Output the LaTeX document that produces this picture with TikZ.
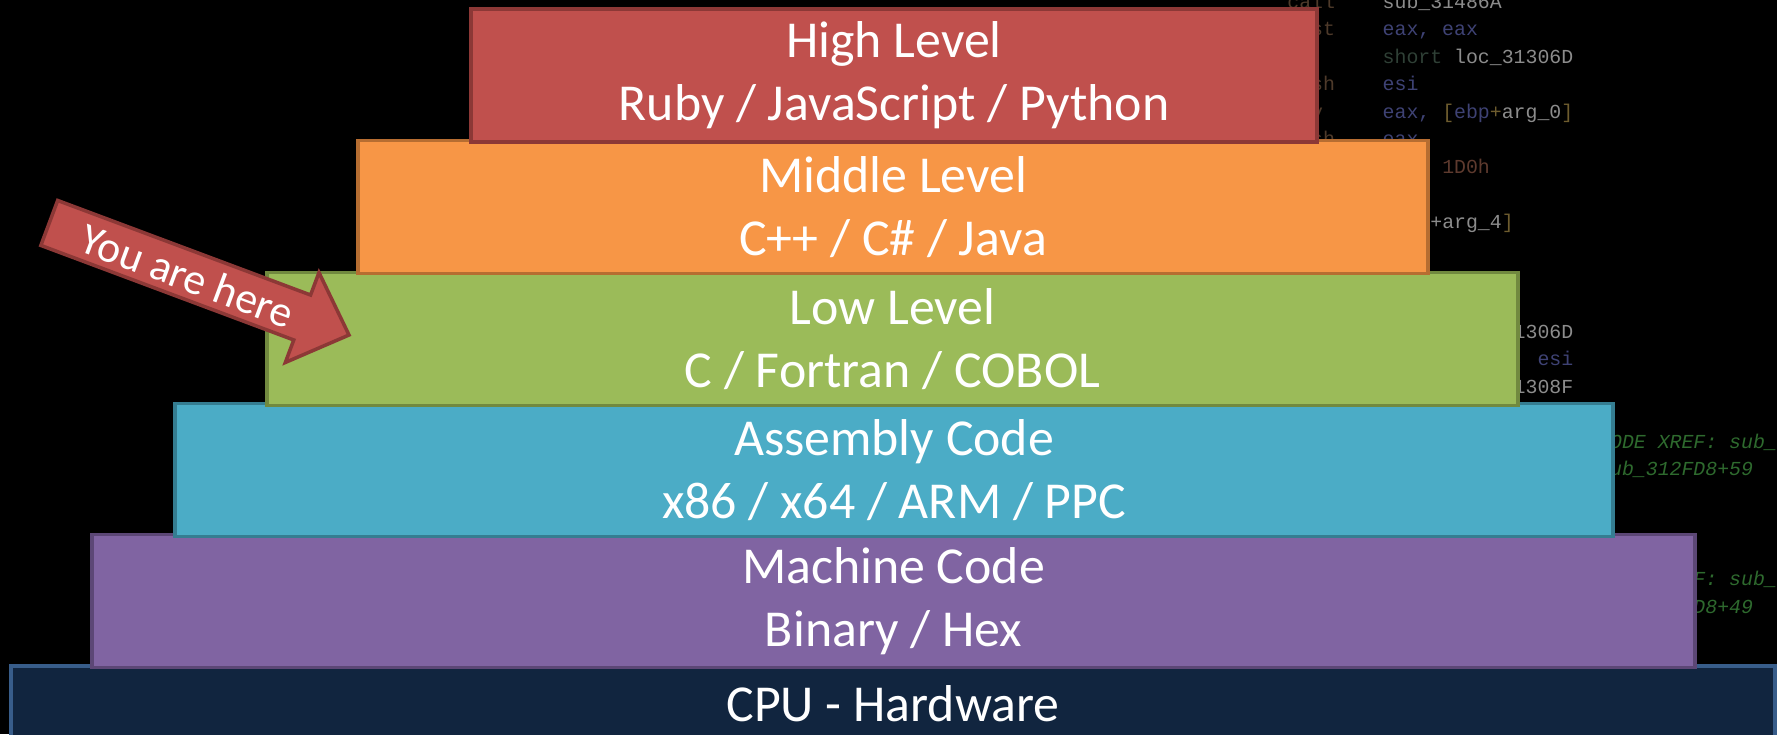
\documentclass[tikz,border=0pt]{standalone}
\usepackage{fontspec}
\setmainfont{Carlito}
\newfontfamily\codefont{Liberation Mono}
\usepackage{tikz}
\usetikzlibrary{positioning, calc}
\usepackage{xcolor}

\definecolor{highfill}{HTML}{C0504D}
\definecolor{highdraw}{HTML}{8C3836}
\definecolor{midfill}{HTML}{F79646}
\definecolor{middraw}{HTML}{B66D31}
\definecolor{lowfill}{HTML}{9BBB59}
\definecolor{lowdraw}{HTML}{71893F}
\definecolor{asmfill}{HTML}{4BACC6}
\definecolor{asmdraw}{HTML}{357D91}
\definecolor{machfill}{HTML}{8064A2}
\definecolor{machdraw}{HTML}{5C4776}
\definecolor{cpufill}{HTML}{11253F}
\definecolor{cpudraw}{HTML}{385D8A}
\definecolor{codeop}{HTML}{4E3A2A}
\definecolor{codereg}{HTML}{3E4274}
\definecolor{codekw}{HTML}{2F4036}
\definecolor{codelbl}{HTML}{8C8C8C}
\definecolor{codebrk}{HTML}{6E5C2E}
\definecolor{codenum}{HTML}{5E3A2E}
\definecolor{codecmt}{HTML}{2E6A2E}

\newcommand{\op}[1]{\textcolor{codeop}{#1}}
\newcommand{\reg}[1]{\textcolor{codereg}{#1}}
\newcommand{\kw}[1]{\textcolor{codekw}{#1}}
\newcommand{\lbl}[1]{\textcolor{codelbl}{#1}}
\newcommand{\brk}[1]{\textcolor{codebrk}{#1}}
\newcommand{\hexnum}[1]{\textcolor{codenum}{#1}}
\newcommand{\cmt}[1]{\textcolor{codecmt}{\itshape #1}}

\begin{document}
\begin{tikzpicture}[x=0.02cm, y=-0.02cm,
    layer/.style={rectangle, line width=2pt, text=white, align=center, inner sep=0pt,
        minimum height=2.66cm, font=\fontsize{29.5}{36}\selectfont},
    codeline/.style={anchor=base west, inner sep=0pt,
        font=\codefont\fontsize{11.3}{13}\selectfont\frenchspacing}]
    \useasboundingbox (0,0) rectangle (1777,734);
    \fill[black] (0,0) rectangle (1777,734);
    \clip (0,0) rectangle (1777,734);

    % Disassembly listing in the background
    \node[codeline] (c0) at (1287,8) {\op{call}~~~~\lbl{sub\_31486A}};
    \node[codeline] (c1) at (1287,35.5) {\op{test}~~~~\reg{eax,~eax}};
    \node[codeline] (c2) at (1287,63) {\op{jz}~~~~~~\kw{short}~\lbl{loc\_31306D}};
    \node[codeline] (c3) at (1287,90.5) {\op{push}~~~~\reg{esi}};
    \node[codeline] (c4) at (1287,118) {\op{mov}~~~~~\reg{eax,}~\brk{[}\reg{ebp}\brk{+}\lbl{arg\_0}\brk{]}};
    \node[codeline] (c5) at (1287,145.5) {\op{push}~~~~\reg{eax}};
    \node[codeline] (c6) at (1287,173) {\op{mov}~~~~~\reg{ecx,}~\hexnum{1D0h}};
    \node[codeline] (c8) at (1287,228) {\op{push}~~~~\brk{[}\reg{ebp}\lbl{+arg\_4}\brk{]}};
    \node[codeline] (c12) at (1287,338) {\op{jmp}~~~~~\kw{short}~\lbl{loc\_31306D}};
    \node[codeline] (c13) at (1287,365.5) {\op{mov}~~~~~\brk{[}\reg{ebp}\brk{+}\lbl{var\_4}\brk{]}\reg{,~esi}};
    \node[codeline] (c14) at (1287,393) {\op{jmp}~~~~~\kw{short}~\lbl{loc\_31308F}};
    \node[codeline] (c16) at (1574,448) {\cmt{;~CODE~XREF:~sub\_312FD8+4E}};
    \node[codeline] (c17) at (1574,475.5) {\cmt{;~sub\_312FD8+59}};
    \node[codeline] (c21) at (1574,585.5) {\cmt{;~CODE~XREF:~sub\_312FD8+3A}};
    \node[codeline] (c22) at (1574,613) {\cmt{;~sub\_312FD8+49}};

    % Layers, bottom first
    \node[layer, fill=cpufill, draw=cpudraw, minimum width=35.28cm, minimum height=1.52cm]
        (cpu) at (893,704) {CPU - Hardware};
    \node[layer, fill=machfill, draw=machdraw, minimum width=32.06cm]
        (machine) at (893.5,601) {Machine Code\\Binary / Hex};
    \node[layer, fill=asmfill, draw=asmdraw, minimum width=28.76cm]
        (assembly) at (894,470) {Assembly Code\\x86 / x64 / ARM / PPC};
    \node[layer, fill=lowfill, draw=lowdraw, minimum width=25.02cm]
        (low) at (892.5,339) {Low Level\\C / Fortran / COBOL};
    \node[layer, fill=midfill, draw=middraw, minimum width=21.4cm]
        (middle) at (893,207) {Middle Level\\C++ / C\# / Java};
    \node[layer, fill=highfill, draw=highdraw, minimum width=16.92cm]
        (high) at (894,75.5) {High Level\\Ruby / JavaScript / Python};

    % You are here
    \coordinate (tip) at (349,335);
    \begin{scope}[shift={(tip)}, rotate=-20.5]
        \draw[fill=highfill, draw=highdraw, line width=2pt, line join=miter]
            (0,0) -- (-50,-48) -- (-50,-24) -- (-320,-24)
            -- (-320,24) -- (-50,24) -- (-50,48) -- cycle;
        \node[rotate=-20.5, text=white, inner sep=0pt, font=\fontsize{25}{28}\selectfont]
            (here) at (-172,1) {You are here};
    \end{scope}
\end{tikzpicture}
\end{document}
